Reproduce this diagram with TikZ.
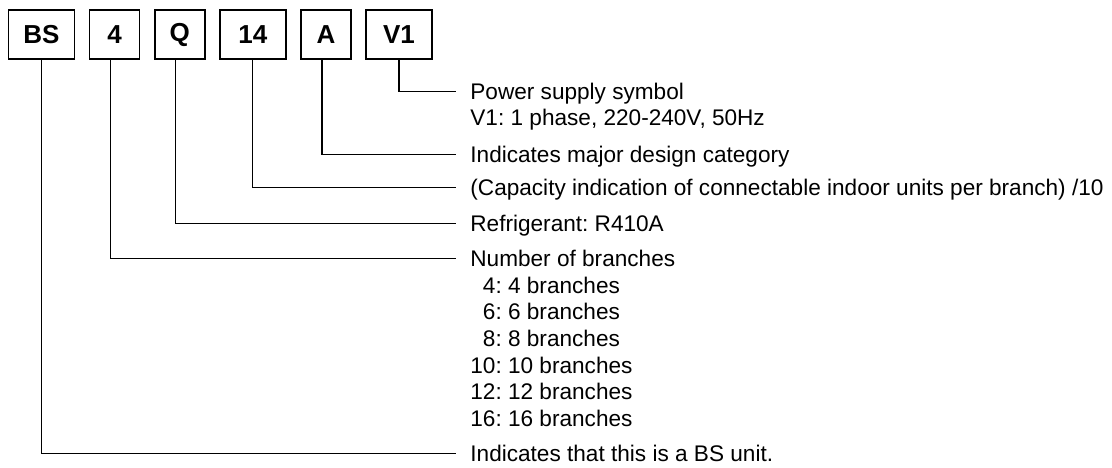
\documentclass[tikz,border=0pt]{standalone}
\usepackage{fontspec}
\setmainfont{Liberation Sans}
\usetikzlibrary{positioning}
\frenchspacing
\tikzset{
  codebox/.style={draw, line width=0.8pt, minimum width=25pt, minimum height=24.5pt, inner sep=0pt, font=\fontsize{13}{15}\selectfont\bfseries},
  widebox/.style={codebox, minimum width=33pt},
  codetext/.style={anchor=west, inner xsep=7pt, inner ysep=0pt, text height=8.1pt, text depth=0pt, font=\fontsize{11.3}{13}\selectfont},
  codeline/.style={line width=0.6pt},
}

\begin{document}
\begin{tikzpicture}[x=0.5pt, y=-0.5pt, node distance=6.75pt]
      \useasboundingbox (0,0) rectangle (1112,467);
      % model code
      \node[widebox] (bs) at (41.5,34.5) {BS};
      \node[codebox, right=of bs] (four) {4};
      \node[codebox, right=of four] (q) {Q};
      \node[widebox, right=of q] (fourteen) {14};
      \node[codebox, right=of fourteen] (a) {A};
      \node[widebox, right=of a] (vone) {V1};

      % meanings
      \node[codetext] (tpower) at (456,91.7) {Power supply symbol};
      \node[codetext] (tvolt) at (456,117.5) {V1: 1 phase, 220-240V, 50Hz};
      \node[codetext] (tdesign) at (456,154.3) {Indicates major design category};
      \node[codetext] (tcapacity) at (456,187.3) {(Capacity indication of connectable indoor units per branch) /10};
      \node[codetext] (trefrig) at (456,223.3) {Refrigerant: R410A};
      \node[codetext] (tbranch) at (456,258.8) {Number of branches};
      \foreach \num [count=\i] in {4,6,8,10,12,16}{
        \node[codetext] (tlist\i) at (456,{258.5+26.65*\i}) {\ifnum\num<10 \phantom{1}\fi\num: \num\ branches};
      }
      \node[codetext] (tunit) at (456,453.3) {Indicates that this is a BS unit.};

      \draw[codeline] (vone.south) |- (tpower.west);
      \draw[codeline] ([xshift=-2pt]a.south) |- (tdesign.west);
      \draw[codeline] (fourteen.south) |- (tcapacity.west);
      \draw[codeline] ([xshift=-2pt]q.south) |- (trefrig.west);
      \draw[codeline] ([xshift=-2pt]four.south) |- (tbranch.west);
      \draw[codeline] (bs.south) |- (tunit.west);
    \end{tikzpicture}
\end{document}
